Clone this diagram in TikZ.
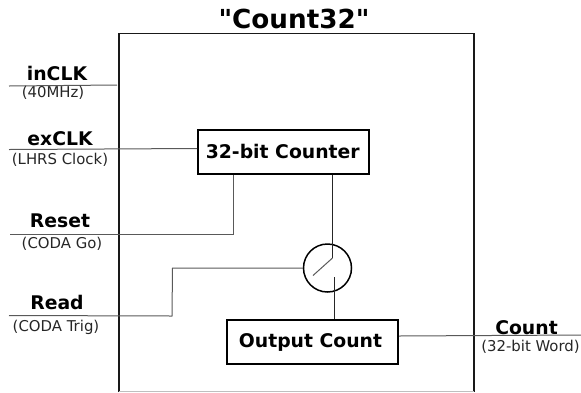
\documentclass[tikz,border=0pt]{standalone}
\usepackage{fontspec}
\setmainfont{DejaVu Sans}
\newfontfamily\plainfam{DejaVu Sans}
\begin{document}
\begin{tikzpicture}[x=1pt,y=-1pt,
  blockbox/.style={draw=black,line width=2pt,minimum width=#1,inner sep=0pt,anchor=center},
  wire/.style={draw=black!65,line width=1pt},
  wiredark/.style={draw=black!85,line width=1pt},
  sig/.style={font=\fontsize{18.8}{20}\selectfont\bfseries,inner sep=0pt,anchor=center},
  note/.style={font=\fontsize{14.9}{16}\selectfont,text=black!85,inner sep=0pt,anchor=center},
  lbl/.style={font=\fontsize{18.8}{20}\selectfont\bfseries,inner sep=0pt,anchor=center}]
\useasboundingbox (0,0) rectangle (581,392);
\draw[line width=1.5pt,draw=black!90] (119,392) -- (119,33.5) -- (474,33.5) -- (474,392);
\draw[line width=1pt,draw=black!25] (119,391) -- (474,391);
\node[inner sep=0pt,font=\plainfam\fontsize{26.2}{29}\selectfont\bfseries] (title) at (294,18.5) {"Count32"};
\node[blockbox=171pt,minimum height=44pt,lbl] (counter) at (283.5,152) {\raisebox{1pt}{32-bit Counter}\kern1.5pt};
\node[blockbox=171pt,minimum height=44pt,lbl] (output) at (312.5,342) {Output Count\kern4pt};
\node[draw=black,line width=1.5pt,circle,minimum size=48pt,inner sep=0pt] (switch) at (327.5,268) {};
\coordinate (inA) at (9,86); \coordinate (inB) at (117,85);
\coordinate (exA) at (9,149.5);
\coordinate (reA) at (10,234); \coordinate (reB) at (233.5,234);
\coordinate (rdA) at (9,315.5); \coordinate (rdB) at (172,316); \coordinate (rdC) at (172.5,268);
\coordinate (swTop) at (332.5,258); \coordinate (swTip) at (313,275.5);
\coordinate (swLow) at (334.5,277);
\coordinate (cntOut) at (581,335);
\draw[wire] (inA) -- (inB);
\draw[wire] (exA) -- (counter.west |- 0,148.5);
\draw[wire] (reA) -- (reB) -- (reB |- counter.south);
\draw[wire] (rdA) -- (rdB) -- (rdC) -- (switch.west |- rdC);
\draw[wiredark] (swTop |- counter.south) -- (swTop);
\draw[wire] (swTop) -- (swTip);
\draw[wiredark] (swLow) -- (swLow |- output.north);
\draw[wire] (output.east |- 0,336) -- (cntOut);
\node[sig] (inclk) at (57,73.5) {inCLK};
\node[note] (inclkn) at (53,92.5) {(40MHz)};
\node[sig] (exclk) at (60,138.5) {exCLK};
\node[note] (exclkn) at (60,159.5) {(LHRS Clock)};
\node[sig] (reset) at (60,220.5) {Reset};
\node[note] (resetn) at (62,243.5) {(CODA Go)};
\node[sig] (read) at (57,302.5) {Read};
\node[note] (readn) at (56,327) {(CODA Trig)};
\node[sig] (count) at (526.5,328) {Count};
\node[note] (countn) at (530.5,347) {(32-bit Word)};
\end{tikzpicture}
\end{document}
